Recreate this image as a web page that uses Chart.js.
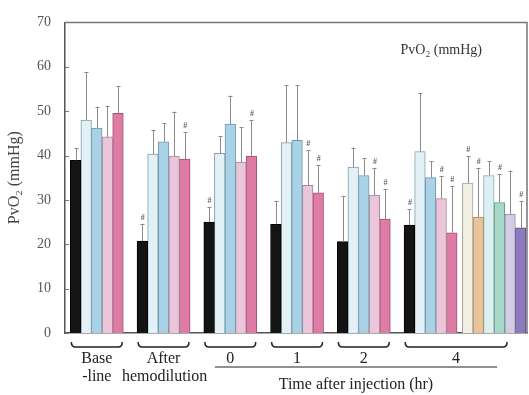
<!DOCTYPE html>
<html>
<head>
<meta charset="utf-8">
<script src="https://cdn.jsdelivr.net/npm/chart.js@4.4.0/dist/chart.umd.min.js"></script>
<style>
  html, body { margin: 0; background: #fff; }
  #wrap { width: 529px; height: 395px; }
</style>
</head>
<body>
<div id="wrap"><canvas id="pvo2Chart"></canvas></div>
<script>
// time points (groups along x)
const groupLabels = [["Base", "-line"], ["After", "hemodilution"], ["0"], ["1"], ["2"], ["4"]];

// one entry per bar colour, values per time point (null = not measured)
const seriesNames = ["S1", "S2", "S3", "S4", "S5", "S6", "S7", "S8", "S9", "S10", "S11"];
const meanValues = [
  [38.9, 20.7, 25.0, 24.5, 20.6, 24.3],
  [48.0, 40.3, 40.5, 42.9, 37.4, 40.9],
  [46.2, 43.1, 47.1, 43.4, 35.5, 35.0],
  [44.2, 39.9, 38.5, 33.3, 31.1, 30.3],
  [49.5, 39.2, 39.9, 31.6, 25.7, 22.6],
  [null, null, null, null, null, 33.8],
  [null, null, null, null, null, 26.1],
  [null, null, null, null, null, 35.5],
  [null, null, null, null, null, 29.4],
  [null, null, null, null, null, 26.8],
  [null, null, null, null, null, 23.7]
];
const sdValues = [
  [2.7, 3.9, 3.3, 5.3, 10.3, 3.6],
  [10.8, 5.5, 3.9, 12.9, 4.4, 13.2],
  [4.8, 4.2, 6.4, 12.4, 3.9, 3.7],
  [7.0, 10.0, 7.9, 7.9, 6.1, 5.0],
  [6.1, 6.1, 8.1, 6.3, 6.8, 10.5],
  [null, null, null, null, null, 6.0],
  [null, null, null, null, null, 11.1],
  [null, null, null, null, null, 3.2],
  [null, null, null, null, null, 6.4],
  [null, null, null, null, null, 9.8],
  [null, null, null, null, null, 6.1]
];
// significance marks (#)
const sigMarks = [
  [0, 1, 1, 0, 0, 1],
  [0, 0, 0, 0, 0, 0],
  [0, 0, 0, 0, 0, 0],
  [0, 0, 0, 1, 1, 1],
  [0, 1, 1, 1, 1, 1],
  [0, 0, 0, 0, 0, 1],
  [0, 0, 0, 0, 0, 1],
  [0, 0, 0, 0, 0, 0],
  [0, 0, 0, 0, 0, 1],
  [0, 0, 0, 0, 0, 0],
  [0, 0, 0, 0, 0, 1]
];
const yTicks = [0, 10, 20, 30, 40, 50, 60, 70];

const fills = ["#141414", "#e3f1f6", "#a9d2e6", "#ebc6da", "#df7ca6",
               "#f1eee2", "#e8c49c", "#dcf0f1", "#a7d8c8", "#d4cbe5", "#8d79bd"];
const borders = ["#000", "#7f9fae", "#6f98ae", "#a9879a", "#a5506f",
                 "#a8a497", "#a88658", "#8aa7ab", "#6a9a8a", "#908aa6", "#5d4f85"];

// bar slot positions (1 unit = 1 bar)
const groupPitch = 6.3;
function slotX(s, g) {
  if (s < 5) return 1 + g * groupPitch + s;
  return 1 + g * groupPitch + s + 0.5;
}

const datasets = seriesNames.map((name, s) => ({
  label: name,
  data: meanValues[s].map((v, g) => v == null ? null : { x: slotX(s, g), y: v, sd: sdValues[s][g], sig: sigMarks[s][g], g }).filter(p => p),
  backgroundColor: fills[s],
  borderColor: borders[s],
  borderWidth: 1,
  grouped: false,
  barPercentage: 1,
  categoryPercentage: 1
}));

const serif = "'Liberation Serif', 'DejaVu Serif', serif";

// error bars + marks
const errorBars = {
  id: 'errorBars',
  afterDatasetsDraw(chart) {
    const ctx = chart.ctx, y = chart.scales.y;
    ctx.save();
    chart.data.datasets.forEach((ds, i) => {
      chart.getDatasetMeta(i).data.forEach((bar, j) => {
        const p = ds.data[j];
        const top = y.getPixelForValue(p.y + p.sd);
        ctx.strokeStyle = '#8a8a8a';
        ctx.lineWidth = 1;
        ctx.beginPath();
        ctx.moveTo(Math.round(bar.x) + 0.5, bar.y);
        ctx.lineTo(Math.round(bar.x) + 0.5, top);
        ctx.moveTo(Math.round(bar.x) - 1.5, Math.round(top) + 0.5);
        ctx.lineTo(Math.round(bar.x) + 2.5, Math.round(top) + 0.5);
        ctx.stroke();
        if (p.sig) {
          ctx.fillStyle = '#666';
          ctx.font = "bold 8px " + serif;
          ctx.textAlign = 'center';
          ctx.textBaseline = 'bottom';
          ctx.fillText('#', bar.x + 0.5, top - 2);
        }
      });
    });
    ctx.restore();
  }
};

// frame, inner ticks, group labels and brackets
const decorations = {
  id: 'decorations',
  afterDraw(chart) {
    const ctx = chart.ctx, a = chart.chartArea, x = chart.scales.x, y = chart.scales.y;
    ctx.save();
    ctx.strokeStyle = '#777';
    ctx.lineWidth = 1.5;
    ctx.beginPath();
    ctx.moveTo(a.left, a.top); ctx.lineTo(a.right, a.top); ctx.lineTo(a.right, a.bottom);
    ctx.stroke();
    ctx.lineWidth = 1;
    ctx.beginPath();
    yTicks.forEach(t => {
      const py = Math.round(y.getPixelForValue(t)) + 0.5;
      ctx.moveTo(a.left, py); ctx.lineTo(a.left + 4, py);
    });
    ctx.stroke();

    // title in plot
    ctx.fillStyle = '#333';
    ctx.font = "14px " + serif;
    ctx.textAlign = 'right';
    ctx.textBaseline = 'middle';
    ctx.fillText('PvO\u2082 (mmHg)', a.right - 45, a.top + 28);

    // brackets under each group
    const spans = groupLabels.map((lab, g) => {
      const nBars = g === 5 ? 11 : 5;
      let l = x.getPixelForValue(slotX(0, g) - 0.4);
      let r = x.getPixelForValue(slotX(nBars - 1, g) + 0.4);
      r = Math.min(r, a.right - 20);
      return [l, r];
    });
    ctx.strokeStyle = '#222';
    ctx.lineWidth = 1.5;
    const by = a.bottom + 14;
    spans.forEach(([l, r]) => {
      ctx.beginPath();
      ctx.moveTo(l, by - 5);
      ctx.quadraticCurveTo(l, by, l + 4, by);
      ctx.lineTo(r - 4, by);
      ctx.quadraticCurveTo(r, by, r, by - 5);
      ctx.stroke();
    });
    ctx.fillStyle = '#222';
    ctx.font = "16px " + serif;
    ctx.textAlign = 'center';
    ctx.textBaseline = 'middle';
    groupLabels.forEach((lines, g) => {
      const cx = (spans[g][0] + spans[g][1]) / 2;
      lines.forEach((t, k) => ctx.fillText(t, cx + (g === 1 && k === 1 ? 1 : 0), a.bottom + 26 + k * 18));
    });
    // time axis line
    const lx = spans[2][0] + 10, rx = spans[5][1] - 10;
    ctx.lineWidth = 1.2;
    ctx.beginPath();
    ctx.moveTo(lx, a.bottom + 34); ctx.lineTo(rx, a.bottom + 34);
    ctx.stroke();
    ctx.fillText('Time after injection (hr)', (lx + rx) / 2, a.bottom + 52);
    ctx.restore();
  }
};

new Chart(document.getElementById('pvo2Chart'), {
  type: 'bar',
  data: { datasets },
  options: {
    responsive: true,
    maintainAspectRatio: false,
    animation: false,
    layout: { padding: { top: 17, right: 2, left: 0, bottom: 0 } },
    plugins: { legend: { display: false }, tooltip: { enabled: false } },
    scales: {
      x: {
        type: 'linear',
        offset: false,
        min: 0,
        max: 43.6,
        ticks: { display: false },
        grid: { display: false, drawTicks: false },
        border: { color: '#555', width: 1.5 },
        afterFit: s => { s.height = 62; }
      },
      y: {
        min: 0,
        max: 70,
        afterBuildTicks: s => { s.ticks = yTicks.map(v => ({ value: v })); },
        ticks: { color: '#555', font: { family: serif, size: 14 }, padding: 14 },
        grid: { display: false, drawTicks: false },
        border: { color: '#555', width: 1.5 },
        title: { display: true, text: 'PvO\u2082 (mmHg)', color: '#444', font: { family: serif, size: 16 }, padding: { top: 5, bottom: 2 } },
        afterFit: s => { s.width = 65; }
      }
    }
  },
  plugins: [errorBars, decorations]
});
</script>
</body>
</html>
